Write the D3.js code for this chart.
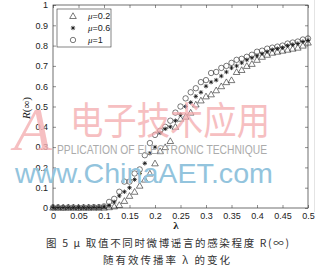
<!doctype html>
<html>
<head>
<meta charset="utf-8">
<title>R(inf) vs lambda</title>
<script src="https://cdn.jsdelivr.net/npm/d3@7"></script>
<style>
  body { margin: 0; background: #fff; }
  svg { display: block; font-family: "Liberation Sans", Arial, sans-serif; }
  .axis text { font-size: 9px; fill: #222; }
  .axis line { stroke: #444; stroke-width: 0.6; }
  .axis path { display: none; }
</style>
</head>
<body>
<div id="chart"></div>
<script>
// data, lambda = 0 : 0.01 : 0.5
var lambdas = d3.range(0, 51).map(function(i){ return i / 100; });

var mu1 = [0.003,0.003,0.002,0.003,0.003,0.002,0.003,0.003,0.004,0.004,
           0.008,0.03,0.045,0.08,0.13,0.13,0.17,0.19,0.26,0.32,
           0.36,0.38,0.40,0.43,0.47,0.50,0.54,0.57,0.59,0.62,
           0.63,0.665,0.67,0.69,0.70,0.715,0.73,0.735,0.745,0.755,
           0.77,0.775,0.785,0.79,0.795,0.80,0.81,0.815,0.82,0.83,0.835];

var mu06 = [0.002,0.002,0.002,0.002,0.002,0.002,0.002,0.002,0.003,0.003,
            0.005,0.012,0.03,0.06,0.08,0.10,0.14,0.17,0.22,0.27,
            0.30,0.37,0.39,0.40,0.43,0.46,0.50,0.52,0.55,0.57,
            0.60,0.62,0.63,0.65,0.67,0.69,0.70,0.715,0.73,0.74,
            0.75,0.76,0.77,0.78,0.785,0.79,0.80,0.805,0.81,0.82,0.825];

var mu02 = [0.002,0.002,0.002,0.002,0.002,0.002,0.002,0.002,0.002,0.002,
            0.002,0.004,0.008,0.015,0.035,0.06,0.08,0.11,0.14,0.17,
            0.22,0.28,0.30,0.33,0.40,0.44,0.45,0.47,0.51,0.53,
            0.55,0.56,0.58,0.60,0.62,0.63,0.67,0.68,0.70,0.71,
            0.73,0.745,0.755,0.765,0.77,0.775,0.78,0.785,0.79,0.80,0.815];

var seriesNames = ["\u03bc=0.2", "\u03bc=0.6", "\u03bc=1"];
var xTicks = [0,0.05,0.1,0.15,0.2,0.25,0.3,0.35,0.4,0.45,0.5];
var yTicks = [0,0.1,0.2,0.3,0.4,0.5,0.6,0.7,0.8,0.9,1];

var W = 329, H = 269;
var margin = { left: 53, right: 21, top: 5, bottom: 61 };
var width = W - margin.left - margin.right,
    height = H - margin.top - margin.bottom;

var svg = d3.select("#chart").append("svg").attr("width", W).attr("height", H);
svg.append("rect").attr("width", W).attr("height", H).attr("fill", "#fff");

// faint figure edge on the right
svg.append("line").attr("x1", 314.5).attr("x2", 314.5).attr("y1", 0).attr("y2", 212)
    .attr("stroke", "#e4e4e4").attr("stroke-width", 1);

var g = svg.append("g").attr("transform", "translate(" + margin.left + "," + margin.top + ")");

var x = d3.scaleLinear().domain([0, 0.5]).range([0, width]);
var y = d3.scaleLinear().domain([0, 1]).range([height, 0]);

var fmt = function(d){ return String(+d.toFixed(2)); };

// watermark (under the data)
var wm = svg.append("g");
wm.append("text").attr("x", 14).attr("y", 150).attr("font-family", "Liberation Serif, serif")
    .attr("font-style", "italic").attr("font-size", 62).attr("fill", "#f5b0b2").attr("opacity", 0.8)
    .text("A");
wm.append("text").attr("x", 70).attr("y", 134).attr("font-family", "Noto Sans CJK SC")
    .attr("font-size", 38).attr("fill", "#f4aaad").attr("opacity", 0.75)
    .attr("textLength", 200).attr("lengthAdjust", "spacingAndGlyphs")
    .text("电子技术应用");
wm.append("text").attr("x", 57).attr("y", 154).attr("font-size", 12).attr("fill", "#ababab")
    .attr("textLength", 210).attr("lengthAdjust", "spacingAndGlyphs")
    .text("PPLICATION OF ELECTRONIC TECHNIQUE");
wm.append("text").attr("x", 15).attr("y", 183).attr("font-size", 28).attr("fill", "#93c4dd")
    .attr("textLength", 258).attr("lengthAdjust", "spacingAndGlyphs")
    .text("www.ChinaAET.com");

// axes, MATLAB style ticks pointing inwards
g.append("g").attr("class", "axis").attr("transform", "translate(0," + height + ")")
    .call(d3.axisBottom(x).tickValues(xTicks).tickSize(-3).tickPadding(5).tickFormat(fmt));
g.append("g").attr("class", "axis")
    .call(d3.axisTop(x).tickValues(xTicks).tickSize(-3).tickFormat(""));
g.append("g").attr("class", "axis")
    .call(d3.axisLeft(y).tickValues(yTicks).tickSize(-3).tickPadding(5).tickFormat(fmt));
g.append("g").attr("class", "axis").attr("transform", "translate(" + width + ",0)")
    .call(d3.axisRight(y).tickValues(yTicks).tickSize(-3).tickFormat(""));

g.append("rect").attr("width", width).attr("height", height)
    .attr("fill", "none").attr("stroke", "#333").attr("stroke-width", 0.7);

// markers
var triPath = d3.symbol().type(d3.symbolTriangle).size(19);
function drawTri(sel, cx, cy){
    sel.append("path").attr("d", triPath()).attr("transform", "translate(" + cx + "," + (cy + 0.6) + ")")
        .attr("fill", "none").attr("stroke", "#222").attr("stroke-width", 0.6);
}
function drawStar(sel, cx, cy){
    var r = 2.2, s = r * 0.72;
    sel.append("path")
        .attr("d", "M" + (cx - r) + "," + cy + "H" + (cx + r) + "M" + cx + "," + (cy - r) + "V" + (cy + r) +
                   "M" + (cx - s) + "," + (cy - s) + "L" + (cx + s) + "," + (cy + s) +
                   "M" + (cx - s) + "," + (cy + s) + "L" + (cx + s) + "," + (cy - s))
        .attr("stroke", "#111").attr("stroke-width", 0.8).attr("fill", "none");
}
function drawCirc(sel, cx, cy){
    sel.append("circle").attr("cx", cx).attr("cy", cy).attr("r", 2.7)
        .attr("fill", "none").attr("stroke", "#222").attr("stroke-width", 0.6);
}

var pts = g.append("g");
lambdas.forEach(function(l, i){
    drawTri(pts, x(l), y(mu02[i]));
    drawStar(pts, x(l), y(mu06[i]));
    drawCirc(pts, x(l), y(mu1[i]));
});

// legend
var lg = g.append("g").attr("transform", "translate(4,4)");
lg.append("rect").attr("width", 54).attr("height", 38).attr("fill", "#fff")
    .attr("stroke", "#333").attr("stroke-width", 0.6);
var drawers = [drawTri, drawStar, drawCirc];
seriesNames.forEach(function(name, i){
    var cy = 7 + i * 12;
    drawers[i](lg, 16, cy);
    var t = lg.append("text").attr("x", 31).attr("y", cy + 3).attr("font-size", 9).attr("fill", "#222");
    t.append("tspan").attr("font-style", "italic").attr("font-family", "Liberation Serif, serif").text("\u03bc");
    t.append("tspan").text(name.slice(1));
});

// axis labels
svg.append("text").attr("transform", "translate(30,108) rotate(-90)").attr("text-anchor", "middle")
    .attr("font-family", "Liberation Serif, serif").attr("font-size", 11).attr("fill", "#222")
    .call(function(t){
        t.append("tspan").attr("font-style", "italic").text("R");
        t.append("tspan").text("(\u221e)");
    });
svg.append("text").attr("x", 176).attr("y", 229).attr("text-anchor", "middle")
    .attr("font-family", "Liberation Serif, serif").attr("font-size", 11).attr("font-weight", "bold")
    .attr("fill", "#222").text("\u03bb");

// caption
svg.append("text").attr("x", 46).attr("y", 247).attr("font-family", "Noto Sans CJK SC")
    .attr("font-size", 10.5).attr("fill", "#333")
    .attr("textLength", 243).attr("lengthAdjust", "spacing")
    .text("图 5  μ 取值不同时微博谣言的感染程度 R(∞)");
svg.append("text").attr("x", 103).attr("y", 264).attr("font-family", "Noto Sans CJK SC")
    .attr("font-size", 10.5).attr("fill", "#333")
    .attr("textLength", 127).attr("lengthAdjust", "spacing")
    .text("随有效传播率 λ 的变化");
</script>
</body>
</html>
